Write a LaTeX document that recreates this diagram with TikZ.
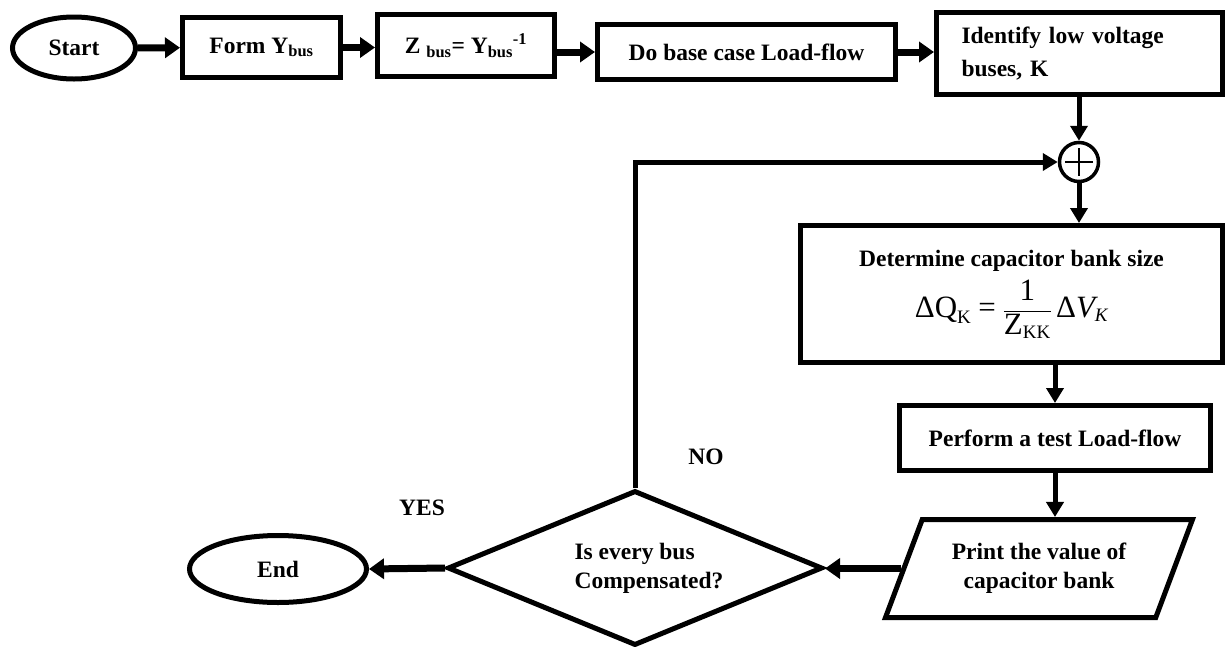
\documentclass[tikz,border=0pt]{standalone}
\usepackage{fontspec}
\setmainfont{Liberation Serif}
\usetikzlibrary{arrows.meta,shapes.geometric}
\newcommand\fmbig[1]{\mbox{\fontsize{31}{36}\selectfont\mdseries #1}}
\newcommand\fmsml[1]{\mbox{\fontsize{19}{22}\selectfont\mdseries #1}}
\begin{document}
\begin{tikzpicture}[x=1pt,y=-1pt,
  txt/.style={font=\bfseries\fontsize{23.5}{29}\selectfont},
  box/.style={txt,draw,rectangle,line width=5pt,inner sep=0pt},
  term/.style={txt,draw,ellipse,line width=5pt,inner sep=0pt},
  arr/.style={line width=7pt,-{Triangle[length=15pt,width=20pt]}},
  varr/.style={line width=5pt,-{Triangle[length=15pt,width=17pt]}},
  lbl/.style={txt,inner sep=0pt}]
\useasboundingbox (0,0) rectangle (1227,646);
% top row
\node[term,minimum width=123pt,minimum height=62pt] (start) at (74,48) {Start};
\node[box,minimum width=158pt,minimum height=60pt] (form) at (261.5,47.5) {Form Y\textsubscript{bus}};
\node[box,minimum width=177pt,minimum height=62pt] (zb) at (466,45.5) {Z \textsubscript{bus}= Y\textsubscript{bus}\textsuperscript{-1}};
\node[box,minimum width=298pt,minimum height=55pt] (do) at (746.5,52) {Do base case Load-flow};
\node[box,minimum width=286pt,minimum height=82pt,inner xsep=25pt,text width=236pt,align=left,
      font=\bfseries\fontsize{23.5}{33}\selectfont] (id) at (1079.5,53.5) {Identify low voltage\\buses, K};
% summing junction
\node[draw,circle,line width=3.5pt,minimum size=39pt,inner sep=0pt] (sum) at (1079,162) {};
\draw[line width=2.5pt] (sum.center) +(-14,0) -- +(14,0) (sum.center) +(0,-14) -- +(0,14);
% right column
\node[box,minimum width=422pt,minimum height=137pt,align=center] (det) at (1011.5,294)
  {Determine capacitor bank size\\[8pt]
   {\fontsize{31}{36}\selectfont$\displaystyle\fmbig{ΔQ}_{\fmsml{K}}\mathrel{\fmbig{=}}\frac{\fmbig{1}}{\fmbig{Z}_{\fmsml{KK}}}\,\fmbig{Δ\itshape V}_{\fmsml{\itshape K}}$}};
\node[box,minimum width=311pt,minimum height=65pt] (perf) at (1055,438) {Perform a test Load-flow};
\node[txt,draw,trapezium,trapezium left angle=54,trapezium right angle=126,trapezium stretches body,
      line width=5pt,minimum width=307pt,minimum height=98pt,inner sep=0pt,align=center] (para) at (1039,568.5)
  {Print the value of\\capacitor bank};
% bottom row
\node[txt,draw,diamond,line width=5pt,minimum width=375pt,minimum height=155pt,inner sep=0pt] (dia) at (635,568)
  {\makebox[0pt]{\hspace*{28pt}\begin{tabular}{@{}l@{}}Is every bus\\Compensated?\end{tabular}}};
\node[term,minimum width=177pt,minimum height=67pt] (end) at (278,569) {End};
\node[lbl] (no) at (706,457) {NO};
\node[lbl] (yes) at (422,508) {YES};
% connectors
\draw[arr] (start) -- (form);
\draw[arr] (form.east) -- (form.east -| zb.west);
\draw[arr] (zb.east |- do.west) -- (do.west);
\draw[arr] (do.east) -- (do.east -| id.west);
\draw[varr] (sum |- id.south) -- (sum.north);
\draw[varr] (dia.north) |- (sum.west);
\draw[varr] (sum.south) -- (sum |- det.north);
\draw[varr] (perf |- det.south) -- (perf.north);
\draw[varr] (perf.south) -- (perf.south |- para.north);
\draw[arr] (para.west) -- (para.west -| dia.east);
\draw[arr] (dia.west) -- (end.east);
\end{tikzpicture}
\end{document}
